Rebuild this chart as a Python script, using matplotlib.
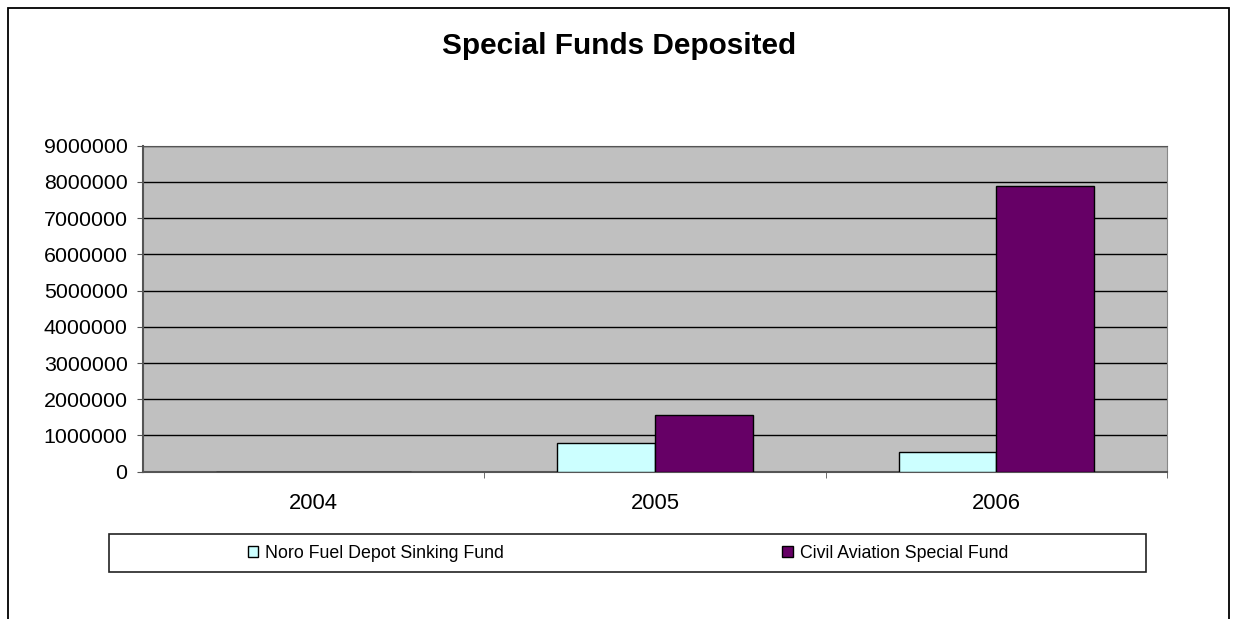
import matplotlib
matplotlib.use("Agg")
import matplotlib.pyplot as plt
import numpy as np
from matplotlib.patches import Rectangle, Patch

plt.rcParams['font.family'] = ['Liberation Sans', 'DejaVu Sans']

years = ['2004', '2005', '2006']
noro = [0, 800000, 550000]
civil = [0, 1560000, 7900000]
series_names = ['Noro Fuel Depot Sinking Fund', 'Civil Aviation Special Fund']
colors = ['#CCFFFF', '#660066']

W, H = 1238, 619
fig = plt.figure(figsize=(W / 100, H / 100), dpi=100)

# outer chart border (bottom edge falls off the picture)
fig.patches.append(Rectangle((7.5 / W, -0.1), 1221.5 / W, 1.1 - 7.5 / H, transform=fig.transFigure,
                             fill=False, edgecolor='black', linewidth=1.3))

ax = fig.add_axes([143.3 / W, 1 - 471.7 / H, 1023.4 / W, 326 / H])
ax.set_facecolor('#C0C0C0')

x = np.arange(len(years))
w = 0.286
ax.bar(x - w / 2, noro, w, color=colors[0], edgecolor='black', linewidth=1, zorder=3)
ax.bar(x + w / 2, civil, w, color=colors[1], edgecolor='black', linewidth=1, zorder=3)

ax.set_xlim(-0.5, 2.5)
ax.set_ylim(0, 9000000)
yt = np.arange(0, 9000001, 1000000)
ax.set_yticks(yt)
ax.set_yticklabels([str(v) for v in yt], fontsize=15.4)
ax.yaxis.grid(True, color='black', linewidth=1)
ax.set_axisbelow(True)

ax.set_xticks(x)
ax.set_xticklabels(years, fontsize=15.8)
ax.tick_params(axis='x', length=0, pad=15.5)
ax.set_xticks([0.5, 1.5, 2.5], minor=True)
ax.tick_params(axis='x', which='minor', length=4.3, color='#555555', direction='out')
ax.tick_params(axis='y', length=4.3, color='#555555', direction='out', pad=7)

for s in ['left', 'bottom']:
    ax.spines[s].set_color('#555555')
    ax.spines[s].set_linewidth(1.5)
ax.spines['top'].set_color('#555555')
ax.spines['right'].set_color('#888888')

fig.text(0.5, 1 - 46 / H, 'Special Funds Deposited', ha='center', va='center',
         fontsize=21.4, fontweight='bold')

# legend box
fig.patches.append(Rectangle((109.3 / W, 1 - 571.7 / H), 1036.4 / W, 37.4 / H, transform=fig.transFigure,
                             fill=False, edgecolor='#222222', linewidth=1.2))
centers = [376, 895]
for name, col, cx in zip(series_names, colors, centers):
    fig.legend(handles=[Patch(facecolor=col, edgecolor='black', linewidth=1)], labels=[name],
               loc='center', bbox_to_anchor=(cx / W, 1 - 553 / H), frameon=False, fontsize=12.8,
               handlelength=0.6, handleheight=0.6, handletextpad=0.4, borderpad=0, borderaxespad=0)

fig.savefig('out.png', dpi=100)
